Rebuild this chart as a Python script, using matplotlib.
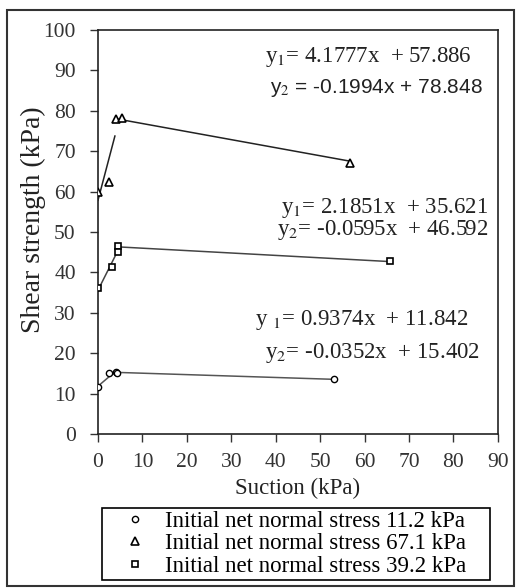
import numpy as np
import matplotlib.pyplot as plt
from matplotlib.patches import Rectangle

plt.rcParams['font.family'] = ['Liberation Serif', 'DejaVu Serif']
plt.rcParams['mathtext.fontset'] = 'stix'

# measured points
x_112 = [0, 2.5, 4.0, 4.3, 53]
y_112 = [11.7, 15.0, 15.3, 15.0, 13.6]
x_671 = [0, 2.5, 4.05, 5.5, 56.7]
y_671 = [60.0, 62.3, 78.1, 78.2, 67.2]
x_392 = [0, 3.1, 4.6, 4.6, 65.7]
y_392 = [36.1, 41.4, 46.5, 45.1, 42.8]

# trend lines: slope, intercept, x start, x end
fit_112 = [(0.9374, 11.842, 0, 4.0), (-0.0352, 15.402, 4.0, 53)]
fit_671 = [(4.1777, 57.886, 0, 3.8), (-0.1994, 78.848, 4.0, 56.7)]
fit_392 = [(2.1851, 35.621, 0, 4.6), (-0.0595, 46.592, 4.6, 65.7)]

labels = ['Initial net normal stress 11.2 kPa',
          'Initial net normal stress 67.1 kPa',
          'Initial net normal stress 39.2 kPa']

fig = plt.figure(figsize=(5.2, 5.88), dpi=100)
ax = fig.add_axes([0.1885, 0.2619, 0.769, 0.687])

# outer frame
fig.patches.append(Rectangle((0.013, 0.003), 0.975, 0.98, transform=fig.transFigure,
                             fill=False, edgecolor='#333333', lw=1.5))

for fits, col in [(fit_112, '#555555'), (fit_671, '#222222'), (fit_392, '#444444')]:
    for m, b, x0, x1 in fits:
        xs = np.array([x0, x1])
        ax.plot(xs, m * xs + b, color=col, lw=1.1, zorder=2)

ms = 4.5
ax.plot(x_112, y_112, 'o', mfc='white', mec='black', ms=ms, mew=1, label=labels[0], zorder=3)
ax.plot(x_671, y_671, '^', mfc='white', mec='black', ms=ms + 0.8, mew=1.2, label=labels[1], zorder=3)
ax.plot(x_392, y_392, 's', mfc='white', mec='black', ms=ms, mew=1.2, label=labels[2], zorder=3)

ax.set_xlim(0, 90)
ax.set_ylim(0, 100)
ax.set_xticks(np.arange(0, 91, 10))
ax.set_yticks(np.arange(0, 101, 10))
ax.tick_params(labelsize=15.5, length=6, width=1, colors='#333333', labelcolor='#333333')
ax.tick_params(axis='x', pad=8)
ax.tick_params(axis='y', pad=10)
for s in ax.spines.values():
    s.set_linewidth(1.2)
    s.set_color('#222222')

ax.set_xlabel('Suction (kPa)', fontsize=16.5, labelpad=4, color='#222222')
ax.set_ylabel('Shear strength (kPa)', fontsize=20, color='#222222')
ax.yaxis.set_label_coords(-0.13, 0.53)

tsz = 16.5
kw = dict(transform=ax.transAxes, ha='right', va='center', fontsize=tsz, color='#222222')
ax.text(0.935, 0.933, r'y$_1$= 4.1777x  + 57.886', **kw)
ax.text(0.9625, 0.856, r'y$_2$ = -0.1994x + 78.848', family=['Liberation Sans', 'DejaVu Sans'],
        **{**kw, 'fontsize': tsz - 1.5})
ax.text(0.975, 0.559, r'y$_1$= 2.1851x  + 35.621', **kw)
ax.text(0.975, 0.505, r'y$_2$= -0.0595x  + 46.592', **kw)
ax.text(0.925, 0.282, r'y $_1$= 0.9374x  + 11.842', **kw)
ax.text(0.955, 0.200, r'y$_2$= -0.0352x  + 15.402', **kw)

leg = fig.legend(loc='lower left', bbox_to_anchor=(0.196, 0.0136, 0.746, 0.129), mode='expand',
                 fontsize=16.5, frameon=True, fancybox=False, edgecolor='black',
                 handlelength=2.6, handletextpad=0.0, borderpad=0.15, labelspacing=0.05,
                 borderaxespad=0)
leg.get_frame().set_linewidth(1.2)
leg.get_frame().set_alpha(1)

fig.savefig('out.png', dpi=100)
